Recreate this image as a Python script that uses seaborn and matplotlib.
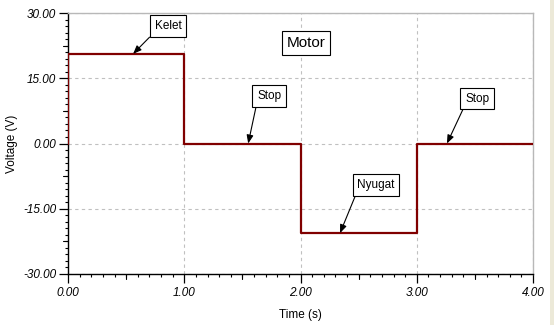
import matplotlib
matplotlib.use("Agg")
import matplotlib.pyplot as plt
import seaborn as sns
import pandas as pd
import numpy as np
from matplotlib.patches import Rectangle

# ---- data ----
step_times = [0, 0, 1, 2, 3, 4]
step_values = [0, 20.6, 0, -20.6, 0, 0]
labels = ["Kelet", "Stop", "Nyugat", "Stop"]
label_point_t = [0.56, 1.55, 2.34, 3.26]
label_point_v = [20.6, 0.0, -20.6, 0.0]
label_box_t = [0.86, 1.73, 2.65, 3.52]
label_box_v = [27.0, 10.9, -9.5, 10.3]
title_text = "Motor"
x_ticks = [0, 1, 2, 3, 4]
y_ticks = [-30, -15, 0, 15, 30]

sns.set_theme(style="white")
plt.rcParams['font.family'] = ['Liberation Sans', 'DejaVu Sans']

fig = plt.figure(figsize=(5.54, 3.25), dpi=100)
fig.patch.set_facecolor("white")
fig.add_artist(Rectangle((550 / 554, 0), 4 / 554, 1, transform=fig.transFigure,
                         facecolor="#ECE9D8", edgecolor="none"))
ax = fig.add_axes([68 / 554, 1 - 274 / 325, (533 - 68) / 554, (274 - 13) / 325])
ax.set_facecolor("white")

df = pd.DataFrame({"t": step_times, "v": step_values})
sns.lineplot(data=df, x="t", y="v", estimator=None, sort=False, ax=ax,
             drawstyle="steps-post", color="#800000", lw=1.6, zorder=3)

ax.set_xlim(0, 4)
ax.set_ylim(-30, 30)
ax.set_xticks(x_ticks)
ax.set_yticks(y_ticks)
ax.set_xticklabels([f"{v:.2f}" for v in x_ticks], fontstyle="italic", fontsize=8.5)
ax.set_yticklabels([f"{v:.2f}" for v in y_ticks], fontstyle="italic", fontsize=8.5)
ax.set_xticks(np.arange(0, 4.001, 0.1), minor=True)
ax.set_yticks(np.arange(-30, 30.001, 1.5), minor=True)
ax.tick_params(axis="both", which="major", direction="out", length=6.5, width=0.9,
               color="black", labelcolor="black", bottom=True, left=True)
ax.tick_params(axis="x", which="major", pad=3)
ax.tick_params(axis="y", which="major", pad=2)
ax.tick_params(axis="both", which="minor", direction="out", length=2.3, width=0.8,
               color="black", bottom=True, left=True)

# medium ticks at half-steps
xt = ax.get_xaxis_transform()
yt = ax.get_yaxis_transform()
h_len = 5 / 261
w_len = 5 / 465
for m in np.arange(0.5, 4, 1.0):
    ax.plot([m, m], [0, -h_len], transform=xt, color="black", lw=0.8, clip_on=False)
for m in np.arange(-22.5, 30, 15):
    ax.plot([0, -w_len], [m, m], transform=yt, color="black", lw=0.8, clip_on=False)

ax.grid(True, which="major", color="#c0c0c0", linestyle=(0, (3, 3)), lw=0.8)
for s in ["left", "bottom"]:
    ax.spines[s].set_color("black")
    ax.spines[s].set_linewidth(1.0)
for s in ["top", "right"]:
    ax.spines[s].set_color("#b8b8b8")
    ax.spines[s].set_linewidth(1.0)

ax.set_xlabel("Time (s)", fontsize=8.5, color="black", labelpad=7)
ax.set_ylabel("Voltage (V)", fontsize=8.5, color="black", labelpad=4)

for txt, pt, pv, bt, bv in zip(labels, label_point_t, label_point_v, label_box_t, label_box_v):
    ax.annotate(txt, xy=(pt, pv), xytext=(bt, bv), ha="center", va="center",
                fontsize=8.5, color="black", zorder=5,
                bbox=dict(boxstyle="square,pad=0.4", fc="white", ec="black", lw=0.8),
                arrowprops=dict(arrowstyle="-|>,head_length=0.5,head_width=0.2",
                                color="black", lw=0.8,
                                relpos=(0, 0), mutation_scale=10,
                                shrinkA=0, shrinkB=0))

ax.text(2.05, 23.1, title_text, ha="center", va="center", fontsize=11, color="black",
        bbox=dict(boxstyle="square,pad=0.3", fc="white", ec="black", lw=0.8), zorder=5)

fig.savefig("out.png", dpi=100)
